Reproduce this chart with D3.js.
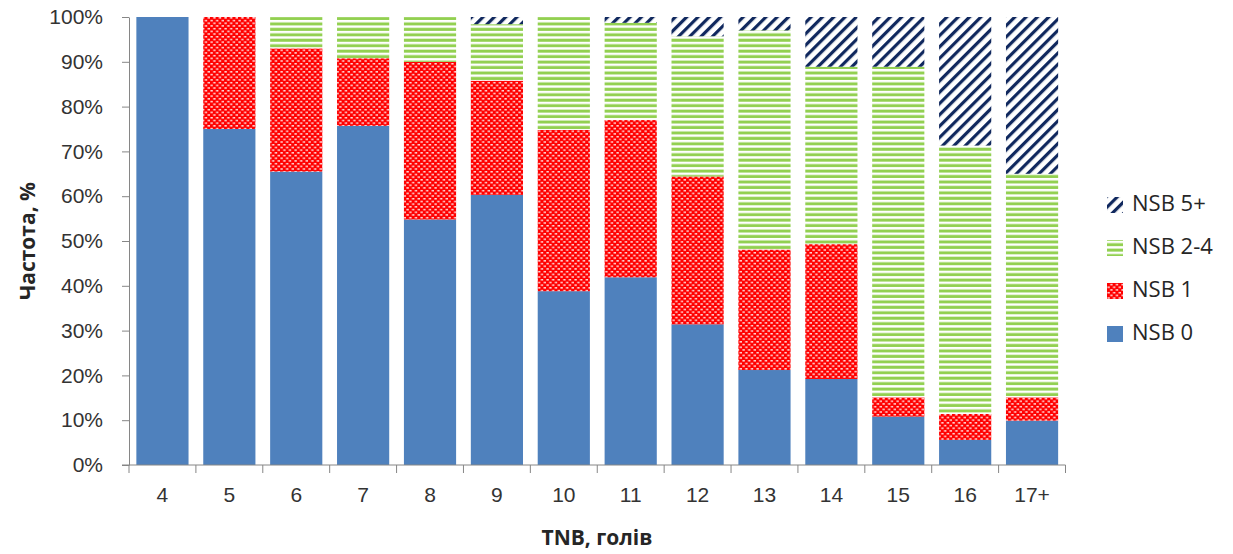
<!DOCTYPE html>
<html>
<head>
<meta charset="utf-8">
<script src="https://cdn.jsdelivr.net/npm/d3@7/dist/d3.min.js"></script>
<style>
  html, body { margin: 0; padding: 0; background: #fff; }
  svg { display: block; font-family: "Open Sans", "DejaVu Sans", sans-serif; }
</style>
</head>
<body>
<svg id="chart" width="1233" height="554"></svg>
<script>
// Share of each NSB group within every TNB class, %
const categories = ["4", "5", "6", "7", "8", "9", "10", "11", "12", "13", "14", "15", "16", "17+"];
const nsb0  = [100, 75.0, 65.5, 75.7, 54.8, 60.3, 38.8, 41.9, 31.4, 21.2, 19.2, 10.8, 5.6, 9.9];
const nsb1  = [0, 25.0, 27.5, 15.1, 35.2, 25.5, 36.0, 35.1, 33.0, 26.9, 30.1, 4.3, 5.8, 5.2];
const nsb24 = [0, 0, 7.0, 9.2, 10.0, 12.6, 25.2, 21.7, 31.3, 48.9, 39.6, 73.8, 59.9, 49.9];
const nsb5  = [0, 0, 0, 0, 0, 1.6, 0, 1.3, 4.3, 3.0, 11.1, 11.1, 28.7, 35.0];
const seriesKeys = ["NSB 0", "NSB 1", "NSB 2-4", "NSB 5+"];
const yTicks = [0, 10, 20, 30, 40, 50, 60, 70, 80, 90, 100];

const rows = categories.map((c, i) => ({
  cat: c,
  "NSB 0": nsb0[i], "NSB 1": nsb1[i], "NSB 2-4": nsb24[i], "NSB 5+": nsb5[i]
}));

const svg = d3.select("#chart");
const margin = { left: 129, right: 1065.5, top: 17, bottom: 465 };

const x = d3.scaleBand().domain(categories)
  .range([margin.left, margin.right]).paddingInner(0.22).paddingOuter(0.11);
const y = d3.scaleLinear().domain([0, 100]).range([margin.bottom, margin.top]);

// fill patterns
const defs = svg.append("defs");

const pRed = defs.append("pattern").attr("id", "pRed")
  .attr("patternUnits", "userSpaceOnUse").attr("width", 5.6).attr("height", 5.4);
pRed.append("rect").attr("width", 5.6).attr("height", 5.4).attr("fill", "#ff0000");
pRed.append("rect").attr("x", 0.4).attr("y", 0.9).attr("width", 2.4).attr("height", 1.5).attr("fill", "#ffffff").attr("opacity", 0.85);
pRed.append("rect").attr("x", 3.2).attr("y", 3.6).attr("width", 2.4).attr("height", 1.5).attr("fill", "#ffffff").attr("opacity", 0.85);

const pGreen = defs.append("pattern").attr("id", "pGreen")
  .attr("patternUnits", "userSpaceOnUse").attr("width", 8).attr("height", 5.45);
pGreen.append("rect").attr("width", 8).attr("height", 5.45).attr("fill", "#ffffff");
pGreen.append("rect").attr("y", 0.6).attr("width", 8).attr("height", 3.0).attr("fill", "#92d050");

const pNavy = defs.append("pattern").attr("id", "pNavy")
  .attr("patternUnits", "userSpaceOnUse").attr("width", 8).attr("height", 8)
  .attr("patternTransform", "rotate(45)");
pNavy.append("rect").attr("width", 8).attr("height", 8).attr("fill", "#ffffff");
pNavy.append("rect").attr("x", 0).attr("width", 3.2).attr("height", 8).attr("fill", "#10285e");

const fills = {
  "NSB 0": "#4f81bd",
  "NSB 1": "url(#pRed)",
  "NSB 2-4": "url(#pGreen)",
  "NSB 5+": "url(#pNavy)"
};

// stacked bars
const stacked = d3.stack().keys(seriesKeys)(rows);
svg.append("g").selectAll("g").data(stacked).join("g")
  .attr("fill", d => fills[d.key])
  .selectAll("rect").data(d => d).join("rect")
  .attr("x", d => x(d.data.cat))
  .attr("width", x.bandwidth())
  .attr("y", d => y(d[1]))
  .attr("height", d => Math.max(0, y(d[0]) - y(d[1])));

// axes
const axisColor = "#868686";
const textColor = "#333333";

const yAxis = svg.append("g").attr("transform", `translate(${margin.left},0)`)
  .call(d3.axisLeft(y).tickValues(yTicks).tickFormat(d => d + "%")
    .tickSize(7).tickSizeOuter(0).tickPadding(19));
yAxis.select(".domain").attr("stroke", axisColor);
yAxis.selectAll(".tick line").attr("stroke", axisColor);
yAxis.selectAll(".tick text").attr("fill", textColor).style("font-size", "21px");

const xAxis = svg.append("g").attr("transform", `translate(0,${margin.bottom})`)
  .call(d3.axisBottom(x).tickSize(0).tickSizeOuter(0).tickPadding(22));
xAxis.select(".domain").attr("stroke", axisColor)
  .attr("d", `M${margin.left - 7},0H${margin.right}`);
xAxis.selectAll(".tick text").attr("fill", textColor).style("font-size", "21px");

// category separators on the x axis
const half = x.step() * x.paddingInner() / 2;
const bounds = categories.map(c => x(c) - half).concat([x(categories[categories.length - 1]) + x.bandwidth() + half]);
svg.append("g").selectAll("line").data(bounds).join("line")
  .attr("x1", d => d).attr("x2", d => d)
  .attr("y1", margin.bottom).attr("y2", margin.bottom + 8)
  .attr("stroke", axisColor);

// axis titles
svg.append("text")
  .attr("transform", `translate(29,${(margin.top + margin.bottom) / 2}) rotate(-90)`)
  .attr("text-anchor", "middle").attr("dominant-baseline", "middle")
  .style("font-size", "21px").style("font-weight", "bold").attr("fill", "#262626")
  .text("Частота, %");

svg.append("text")
  .attr("x", 597).attr("y", 539)
  .attr("text-anchor", "middle").attr("dominant-baseline", "middle")
  .style("font-size", "21px").style("font-weight", "bold").attr("fill", "#262626")
  .text("TNB, голів");

// legend
const legendItems = ["NSB 5+", "NSB 2-4", "NSB 1", "NSB 0"];
const legend = svg.append("g").selectAll("g").data(legendItems).join("g")
  .attr("transform", (d, i) => `translate(1107,${205 + i * 43})`);
legend.append("rect")
  .attr("x", 0).attr("y", -8).attr("width", 16).attr("height", 16)
  .attr("fill", d => fills[d]);
legend.append("text")
  .attr("x", 25).attr("y", 0).attr("dominant-baseline", "middle")
  .style("font-size", "22px").attr("fill", "#262626")
  .text(d => d);
</script>
</body>
</html>
